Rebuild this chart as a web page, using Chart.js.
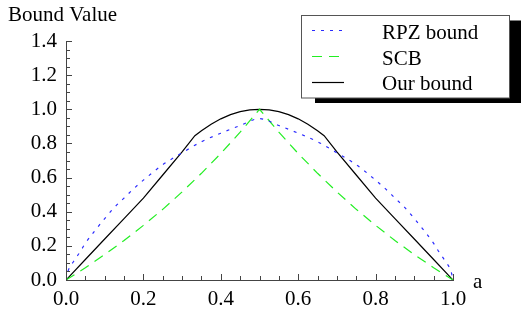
<!DOCTYPE html>
<html><head><meta charset="utf-8">
<script src="https://cdn.jsdelivr.net/npm/chart.js@4/dist/chart.umd.min.js"></script>
<style>html,body{margin:0;padding:0;background:#fff;overflow:hidden}</style>
</head><body>
<canvas id="c" width="521" height="311" style="display:block;width:521px;height:311px"></canvas>
<script>
const FONT = "'Liberation Serif','Times New Roman',Times,serif";
const yTitle = 'Bound Value';
const xTitle = 'a';
const seriesNames = ['RPZ bound', 'SCB', 'Our bound'];
const xTickLabels = ['0.0', '0.2', '0.4', '0.6', '0.8', '1.0'];
const yTickLabels = ['0.0', '0.2', '0.4', '0.6', '0.8', '1.0', '1.2', '1.4'];

const rpzA = [0, 0.005, 0.02, 0.035, 0.05, 0.075, 0.1, 0.125, 0.15, 0.175, 0.2, 0.25, 0.3, 0.35, 0.4, 0.45, 0.5, 0.55, 0.6, 0.65, 0.7, 0.75, 0.8, 0.825, 0.85, 0.875, 0.9, 0.925, 0.95, 0.965, 0.98, 0.995, 1];
const rpzV = [0, 0.05, 0.11, 0.16, 0.215, 0.29, 0.36, 0.425, 0.48, 0.535, 0.585, 0.675, 0.745, 0.81, 0.86, 0.905, 0.945, 0.905, 0.86, 0.81, 0.745, 0.675, 0.585, 0.535, 0.48, 0.425, 0.36, 0.29, 0.215, 0.16, 0.11, 0.05, 0];

const scbA = [0, 0.05, 0.1, 0.15, 0.2, 0.25, 0.3, 0.35, 0.4, 0.45, 0.5, 0.55, 0.6, 0.65, 0.7, 0.75, 0.8, 0.85, 0.9, 0.95, 1];
const scbV = [0, 0.072, 0.149, 0.231, 0.32, 0.414, 0.516, 0.625, 0.741, 0.866, 1.0, 0.866, 0.741, 0.625, 0.516, 0.414, 0.32, 0.231, 0.149, 0.072, 0];

const ourA = [0, 0.05, 0.1, 0.15, 0.2, 0.25, 0.3, 0.333, 0.35, 0.375, 0.4, 0.425, 0.45, 0.475, 0.5, 0.525, 0.55, 0.575, 0.6, 0.625, 0.65, 0.667, 0.7, 0.75, 0.8, 0.85, 0.9, 0.95, 1];
const ourV = [0, 0.12, 0.24, 0.36, 0.48, 0.615, 0.75, 0.845, 0.874, 0.913, 0.944, 0.969, 0.986, 0.997, 1.0, 0.997, 0.986, 0.969, 0.944, 0.913, 0.874, 0.845, 0.75, 0.615, 0.48, 0.36, 0.24, 0.12, 0];

const toPts = (xs, ys) => xs.map((x, i) => ({x: x, y: ys[i]}));
const isMajor = v => Math.abs(v / 0.2 - Math.round(v / 0.2)) < 1e-6;
const labelFor = (arr, v) => isMajor(v) ? arr[Math.round(v / 0.2)] : '';

const deco = {
  id: 'deco',
  afterDraw(chart) {
    const ctx = chart.ctx, ca = chart.chartArea, xs = chart.scales.x, ys = chart.scales.y;
    ctx.save();
    ctx.strokeStyle = '#444';
    ctx.lineWidth = 1;
    ctx.beginPath();
    xs.ticks.forEach(t => {
      const px = Math.round(xs.getPixelForValue(t.value)) + 0.5;
      const L = isMajor(t.value) ? 6 : 4;
      ctx.moveTo(px, ca.bottom); ctx.lineTo(px, ca.bottom - L);
    });
    ys.ticks.forEach(t => {
      const py = Math.round(ys.getPixelForValue(t.value)) + 0.5;
      const L = isMajor(t.value) ? 6 : 4;
      ctx.moveTo(ca.left, py); ctx.lineTo(ca.left + L, py);
    });
    ctx.stroke();
    ctx.fillStyle = '#000';
    ctx.font = '21px ' + FONT;
    ctx.textAlign = 'left';
    ctx.textBaseline = 'alphabetic';
    ctx.fillText(yTitle, 8, 21);
    ctx.fillText(xTitle, 473, 288);
    // legend
    const bx = 301, by = 15.5, bw = 208, bh = 82.5;
    ctx.fillStyle = '#000';
    ctx.fillRect(bx + 14, by + 5, bw, bh);
    ctx.fillStyle = '#fff';
    ctx.fillRect(bx, by, bw, bh);
    ctx.strokeStyle = '#555';
    ctx.strokeRect(bx + 0.5, by, bw, bh);
    const rows = [30.5, 56.5, 82.5];
    const bases = [38.5, 64.5, 90];
    chart.data.datasets.forEach((ds, i) => {
      ctx.save();
      ctx.strokeStyle = ds.borderColor;
      ctx.lineWidth = ds.borderWidth;
      ctx.setLineDash(ds.borderDash || []);
      ctx.beginPath();
      ctx.moveTo(312, rows[i]); ctx.lineTo(344, rows[i]);
      ctx.stroke();
      ctx.restore();
      ctx.fillStyle = '#000';
      ctx.fillText(ds.label, 382, bases[i]);
    });
    ctx.restore();
  }
};

new Chart(document.getElementById('c'), {
  type: 'line',
  data: {
    datasets: [
      {label: seriesNames[0], data: toPts(rpzA, rpzV), borderColor: '#2a2aff', borderWidth: 1.2, borderDash: [3, 6], pointRadius: 0, cubicInterpolationMode: 'monotone', fill: false},
      {label: seriesNames[1], data: toPts(scbA, scbV), borderColor: '#22ee22', borderWidth: 1.2, borderDash: [10, 7], pointRadius: 0, tension: 0, fill: false},
      {label: seriesNames[2], data: toPts(ourA, ourV), borderColor: '#000', borderWidth: 1.2, pointRadius: 0, tension: 0, fill: false}
    ]
  },
  options: {
    responsive: false,
    animation: false,
    devicePixelRatio: 1,
    layout: {padding: {top: 41, right: 68, left: 0, bottom: 0}},
    plugins: {legend: {display: false}, tooltip: {enabled: false}},
    scales: {
      x: {
        type: 'linear', min: 0, max: 1,
        afterFit(s) { s.height = 31; },
        grid: {display: false, drawTicks: false},
        border: {display: true, color: '#444', width: 1},
        ticks: {stepSize: 0.05, autoSkip: false, maxRotation: 0, padding: 7, color: '#000',
          font: {family: FONT, size: 21}, callback: v => labelFor(xTickLabels, v)}
      },
      y: {
        type: 'linear', min: 0, max: 1.4,
        afterFit(s) { s.width = 66; },
        grid: {display: false, drawTicks: false},
        border: {display: true, color: '#444', width: 1},
        ticks: {stepSize: 0.05, autoSkip: false, padding: 9, color: '#000',
          font: {family: FONT, size: 21}, callback: v => labelFor(yTickLabels, v)}
      }
    }
  },
  plugins: [deco]
});
</script>
</body></html>
